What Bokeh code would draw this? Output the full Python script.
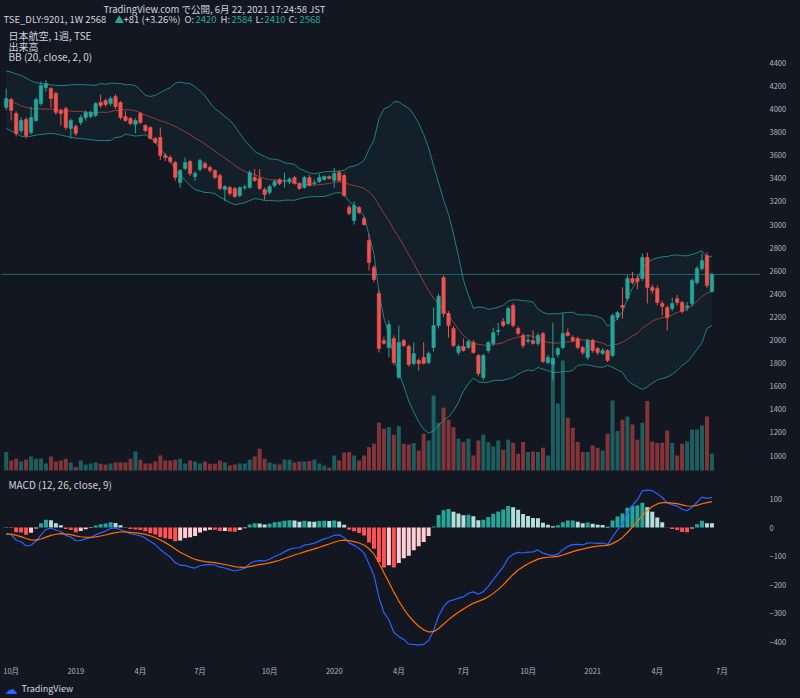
import numpy as np
import pandas as pd
from bokeh.plotting import figure
from bokeh.layouts import column
from bokeh.models import Range1d, FixedTicker, Label, Span
from bokeh.embed import file_html
from bokeh.resources import INLINE

# ---------------- data (weekly, TSE:9201, late Sep 2018 .. Jun 2021) ----------------
opens = [4014, 4083, 3962, 3814, 3910, 3797, 3901, 4048, 4187, 4178,
         4135, 3988, 4005, 3832, 3849, 3884, 3927, 3935, 3944, 4057,
         4074, 4048, 4109, 4057, 3935, 3918, 3866, 3962, 3858, 3840,
         3745, 3754, 3598, 3580, 3537, 3364, 3485, 3546, 3416, 3477,
         3529, 3494, 3468, 3425, 3303, 3321, 3312, 3252, 3318, 3321,
         3407, 3399, 3304, 3278, 3338, 3390, 3380, 3370, 3407, 3355,
         3321, 3407, 3355, 3373, 3390, 3416, 3382, 3451, 3425, 3148,
         3035, 3148, 3052, 2862, 2628, 2403, 1996, 1935, 2013, 1675,
         1996, 1944, 1797, 1823, 1849, 1805, 1935, 2126, 2542, 2230,
         2100, 1892, 1944, 1935, 1979, 1866, 1675, 1909, 1970, 2075,
         2160, 2143, 2300, 2100, 2039, 1990, 1996, 1970, 2057, 1805,
         1790, 1875, 1935, 2065, 2022, 2013, 1935, 1849, 1996, 1927,
         1883, 1909, 1866, 2195, 2299, 2360, 2533, 2533, 2533, 2715,
         2455, 2446, 2316, 2282, 2273, 2360, 2325, 2280, 2316, 2498,
         2619, 2732, 2420]
highs = [4178, 4100, 3980, 3930, 3930, 4022, 4100, 4240, 4250, 4190,
         4150, 4005, 4020, 3920, 3870, 3950, 3990, 3985, 4060, 4126,
         4090, 4110, 4126, 4070, 3985, 3930, 3920, 3975, 3870, 3850,
         3760, 3840, 3620, 3600, 3550, 3480, 3580, 3560, 3460, 3570,
         3545, 3510, 3480, 3440, 3340, 3335, 3325, 3330, 3345, 3470,
         3480, 3480, 3320, 3345, 3390, 3400, 3450, 3410, 3420, 3365,
         3420, 3430, 3390, 3440, 3425, 3425, 3490, 3470, 3440, 3170,
         3200, 3160, 3070, 2920, 2650, 2430, 2030, 2170, 2040, 2126,
         2010, 1960, 1979, 1840, 1980, 1900, 2282, 2400, 2559, 2250,
         2120, 1960, 2013, 2000, 2000, 1880, 1880, 1990, 2108, 2150,
         2190, 2290, 2316, 2120, 2060, 2050, 2083, 2060, 2070, 1870,
         2150, 1940, 2230, 2100, 2040, 2030, 1950, 2010, 2010, 1940,
         1930, 1920, 2230, 2250, 2455, 2560, 2590, 2560, 2749, 2758,
         2480, 2470, 2340, 2300, 2368, 2390, 2340, 2330, 2530, 2640,
         2749, 2760, 2584]
lows = [3990, 3901, 3763, 3790, 3745, 3780, 3890, 4030, 4150, 4014,
        3950, 3858, 3820, 3745, 3770, 3860, 3900, 3920, 3930, 4010,
        4020, 4030, 4000, 3910, 3890, 3860, 3790, 3870, 3800, 3735,
        3700, 3560, 3550, 3530, 3380, 3320, 3470, 3420, 3380, 3460,
        3480, 3450, 3395, 3300, 3200, 3250, 3230, 3235, 3300, 3310,
        3370, 3300, 3215, 3260, 3320, 3340, 3320, 3350, 3345, 3300,
        3310, 3330, 3340, 3360, 3380, 3390, 3320, 3370, 3240, 3080,
        3000, 3090, 2990, 2602, 2500, 1892, 1960, 1849, 1780, 1667,
        1940, 1770, 1780, 1736, 1790, 1790, 1900, 2100, 2200, 2022,
        1940, 1870, 1900, 1920, 1880, 1685, 1650, 1890, 1950, 2040,
        2110, 2130, 2110, 2040, 1930, 1970, 1960, 1950, 1800, 1790,
        1650, 1850, 1920, 2030, 1980, 1920, 1870, 1830, 1890, 1870,
        1870, 1810, 1850, 2170, 2186, 2340, 2480, 2440, 2510, 2316,
        2400, 2300, 2212, 2083, 2250, 2300, 2230, 2250, 2290, 2480,
        2600, 2450, 2410]
closes = [4092, 3988, 3789, 3901, 3771, 3927, 4083, 4204, 4221, 4092,
          3970, 3962, 3840, 3901, 3789, 3927, 3970, 3970, 4048, 4031,
          4040, 4092, 4022, 3927, 3901, 3875, 3901, 3884, 3814, 3745,
          3710, 3598, 3580, 3546, 3407, 3468, 3537, 3442, 3442, 3555,
          3494, 3468, 3407, 3312, 3330, 3269, 3243, 3321, 3326, 3451,
          3382, 3312, 3260, 3330, 3373, 3355, 3384, 3395, 3355, 3312,
          3407, 3338, 3364, 3407, 3416, 3399, 3442, 3382, 3252, 3096,
          3165, 3104, 3000, 2671, 2524, 1927, 1970, 2134, 1805, 1979,
          1953, 1788, 1883, 1797, 1797, 1883, 2126, 2377, 2230, 2126,
          1953, 1944, 1909, 1987, 1892, 1710, 1866, 1979, 2065, 2083,
          2126, 2273, 2126, 2057, 1953, 2000, 1970, 2039, 1814, 1849,
          1840, 1927, 2057, 2039, 1996, 1935, 1892, 1996, 1909, 1892,
          1909, 1823, 2212, 2238, 2282, 2533, 2498, 2507, 2715, 2455,
          2429, 2325, 2290, 2195, 2316, 2325, 2247, 2295, 2516, 2619,
          2689, 2472, 2568]
# volume, million shares
volume = [9.2, 5.0, 5.9, 4.5, 5.5, 7.0, 5.9, 6.0, 3.5, 7.0,
          4.5, 5.0, 5.9, 4.0, 1.7, 5.0, 3.0, 3.5, 4.0, 3.4,
          3.0, 3.5, 4.0, 4.0, 4.0, 5.9, 9.5, 5.4, 3.5, 3.5,
          4.5, 7.5, 5.0, 5.0, 5.4, 5.9, 3.5, 5.0, 4.5, 3.5,
          4.5, 3.4, 3.4, 5.0, 4.0, 2.5, 3.0, 3.5, 3.5, 5.4,
          7.0, 10.9, 5.9, 4.0, 3.4, 3.0, 5.5, 5.4, 4.0, 4.5,
          4.5, 4.7, 5.5, 3.5, 2.5, 1.4, 7.5, 5.0, 8.9, 9.2,
          7.5, 5.0, 7.5, 11.7, 13.4, 23.9, 20.9, 21.7, 17.9, 22.2,
          13.4, 13.0, 13.7, 10.0, 18.4, 15.0, 37.5, 23.9, 31.4, 25.4,
          21.7, 15.9, 14.2, 15.9, 7.5, 15.0, 17.9, 14.2, 12.0, 15.0,
          10.4, 15.4, 13.9, 8.4, 14.2, 9.2, 9.5, 9.2, 11.4, 7.5,
          56.0, 33.5, 55.0, 26.4, 21.4, 14.2, 9.2, 9.2, 12.5, 11.4,
          10.0, 18.4, 35.0, 19.7, 25.4, 27.0, 23.0, 15.4, 23.9, 34.7,
          14.5, 13.7, 13.9, 20.0, 13.7, 7.5, 13.4, 14.5, 20.5, 20.5,
          22.5, 27.0, 8.4]
# Bollinger band values of the first 19 weeks (their 20-week window starts before the chart)
bb_upper_warmup = [4330, 4320, 4305, 4290, 4270, 4245, 4228, 4222, 4215, 4210,
                   4205, 4204, 4204, 4210, 4212, 4212, 4210, 4208, 4206]
bb_lower_warmup = [3832, 3810, 3790, 3765, 3760, 3765, 3775, 3780, 3785, 3790,
                   3785, 3775, 3765, 3755, 3748, 3745, 3740, 3735, 3730]
# MACD state at the first bar (history before the chart)
ema12_seed = 4064.0
ema26_seed = 4085.0
signal_seed = -23.0

month_ticks = [1, 14, 27, 39, 53, 66, 79, 92, 105, 118, 131, 144]
month_labels = ["10月", "2019", "4月", "7月", "10月", "2020", "4月", "7月", "10月", "2021", "4月", "7月"]
price_ticks = [1000, 1200, 1400, 1600, 1800, 2000, 2200, 2400, 2600, 2800, 3000,
               3200, 3400, 3600, 3800, 4000, 4200, 4400]
macd_ticks = [100, 0, -100, -200, -300, -400]
last_price = 2568

# ---------------- style ----------------
BG = "#131722"
TXT = "#b2b5be"
TXT2 = "#d1d4dc"
UP = "#26a69a"
DN = "#ef5350"
FONT = "Noto Sans CJK JP"
CSS = {"background-color": BG}

# pixel helpers for placing annotation text (layout only)
def px2x(px):
    return (px - 5.7) / 4.97

def py2p(py):
    return 1000 + (455 - py) * 8.66

def py2m(py):
    return (527 - py) / 0.285

# ---------------- computed indicators ----------------
o = np.array(opens, float)
h = np.array(highs, float)
l = np.array(lows, float)
c = np.array(closes, float)
v = np.array(volume, float)
n = len(c)
idx = np.arange(n)
up = c >= o
col = np.where(up, UP, DN)

cs = pd.Series(c)
basis = cs.rolling(20).mean().to_numpy()
sd = cs.rolling(20).std(ddof=0).to_numpy()
upper = basis + 2 * sd
lower = basis - 2 * sd
w = len(bb_upper_warmup)
upper[:w] = bb_upper_warmup
lower[:w] = bb_lower_warmup
basis[:w] = (upper[:w] + lower[:w]) / 2

ema12 = np.zeros(n)
ema26 = np.zeros(n)
ema12[0] = ema12_seed
ema26[0] = ema26_seed
for i in range(1, n):
    ema12[i] = ema12[i - 1] + 2 / 13 * (c[i] - ema12[i - 1])
    ema26[i] = ema26[i - 1] + 2 / 27 * (c[i] - ema26[i - 1])
macd = ema12 - ema26
sig = np.zeros(n)
sig[0] = signal_seed
for i in range(1, n):
    sig[i] = sig[i - 1] + 2 / 10 * (macd[i] - sig[i - 1])
hist = macd - sig
hcol = []
for i in range(n):
    prev = hist[i - 1] if i > 0 else hist[i]
    if hist[i] >= 0:
        hcol.append("#26a69a" if hist[i] >= prev else "#b2dfdb")
    else:
        hcol.append("#ff5252" if hist[i] <= prev else "#ffcdd2")

X0, X1 = px2x(0), px2x(760)

def style_axis(ax):
    ax.axis_line_color = None
    ax.major_tick_line_color = None
    ax.minor_tick_line_color = None
    ax.major_tick_out = 0
    ax.major_tick_in = 0
    ax.major_label_text_color = TXT
    ax.major_label_text_font = FONT
    ax.major_label_text_font_size = "7.5px"

def lab(fig, x, y, text, color=TXT2, size="9.5px", align="left", **kw):
    fig.add_layout(Label(x=x, y=y, text=text, text_color=color, text_font=FONT,
                         text_font_size=size, text_align=align, text_baseline="middle", **kw))

# ---------------- main pane (its frame also holds the header lines) ----------------
p = figure(width=800, height=475, x_range=Range1d(X0, X1),
           y_range=Range1d(py2p(475), py2p(0)),
           output_backend="svg", toolbar_location=None, x_axis_location=None,
           y_axis_location="right", min_border_left=0, min_border_right=40,
           min_border_top=0, min_border_bottom=0, background_fill_color=BG,
           border_fill_color=BG, outline_line_color=None, styles=CSS)
p.grid.visible = False
p.yaxis.ticker = FixedTicker(ticks=price_ticks)
style_axis(p.yaxis[0])
p.yaxis[0].major_label_standoff = 9

p.extra_y_ranges = {"vol": Range1d(-2.5, 470 / 2)}

# Bollinger fill
p.varea(x=idx, y1=lower, y2=upper, fill_color=UP, fill_alpha=0.06)
# volume
p.vbar(x=idx, top=v, bottom=0, width=0.8, fill_color=col, line_color=None,
       fill_alpha=0.5, y_range_name="vol")
# Bollinger lines
p.line(idx, upper, line_color=UP, line_alpha=0.75, line_width=1)
p.line(idx, lower, line_color=UP, line_alpha=0.75, line_width=1)
p.line(idx, basis, line_color="#b5453c", line_alpha=0.8, line_width=1)
# last price line
p.add_layout(Span(location=last_price, dimension="width", line_color=UP, line_alpha=0.55, line_width=1))
# candles
p.segment(x0=idx, y0=l, x1=idx, y1=h, line_color=col, line_width=1)
p.vbar(x=idx, top=np.maximum(o, c), bottom=np.minimum(o, c), width=0.7,
       fill_color=col, line_color=col, line_width=0.5)

# header lines
lab(p, px2x(103), py2p(8), "TradingView.com で公開, 6月 22, 2021 17:24:58 JST")
hdr = [(3, "TSE_DLY:9201, 1W 2568", TXT2), (114, "▲", UP), (123, "+81 (+3.26%)", TXT2),
       (184, "O:", TXT2), (195, "2420", UP), (220, "H:", TXT2), (231, "2584", UP),
       (255, "L:", TXT2), (264, "2410", UP), (288, "C:", TXT2), (299, "2568", UP)]
for xx, t, cc in hdr:
    lab(p, px2x(xx), py2p(18.5), t, cc)
lab(p, px2x(8), py2p(35), "日本航空, 1週, TSE", TXT2, "10px")
lab(p, px2x(8), py2p(45.5), "出来高", TXT2, "10px")
lab(p, px2x(8), py2p(56), "BB (20, close, 2, 0)", TXT2, "10px")

# ---------------- MACD pane ----------------
m = figure(width=800, height=205, x_range=p.x_range, y_range=Range1d(py2m(655), py2m(475)),
           output_backend="svg", toolbar_location=None, y_axis_location="right",
           min_border_left=0, min_border_right=40, min_border_top=0, min_border_bottom=25,
           background_fill_color=BG, border_fill_color=BG, outline_line_color=None, styles=CSS)
m.grid.visible = False
m.yaxis.ticker = FixedTicker(ticks=macd_ticks)
m.yaxis.major_label_overrides = {t: (str(t).replace("-", "−")) for t in macd_ticks}
style_axis(m.yaxis[0])
m.yaxis[0].major_label_standoff = 9
m.xaxis.ticker = FixedTicker(ticks=month_ticks)
m.xaxis.major_label_overrides = dict(zip(month_ticks, month_labels))
style_axis(m.xaxis[0])
m.xaxis[0].major_label_standoff = 9

m.vbar(x=idx, top=hist, bottom=0, width=0.8, fill_color=hcol, line_color=None)
m.line(idx, macd, line_color="#2962ff", line_width=1.2)
m.line(idx, sig, line_color="#ff6d00", line_width=1.2)

lab(m, px2x(8), py2m(484), "MACD (12, 26, close, 9)", TXT2, "10px")

# ---------------- footer strip ----------------
ft = figure(width=800, height=18, x_range=Range1d(0, 760), y_range=Range1d(698, 680),
            output_backend="svg", toolbar_location=None, x_axis_location=None,
            y_axis_location=None, min_border_left=0, min_border_right=40,
            min_border_top=0, min_border_bottom=0, background_fill_color=BG,
            border_fill_color=BG, outline_line_color=None, styles=CSS)
ft.grid.visible = False
ft.add_layout(Label(x=4, y=688.5, text="☁", text_color="#2962ff", text_font="DejaVu Sans",
                    text_font_size="13px", text_baseline="middle"))
lab(ft, 21, 688, "TradingView", TXT2, "9px")

layout = column(p, m, ft, spacing=0, styles=CSS)
open("out.html", "w").write(file_html(layout, INLINE))
